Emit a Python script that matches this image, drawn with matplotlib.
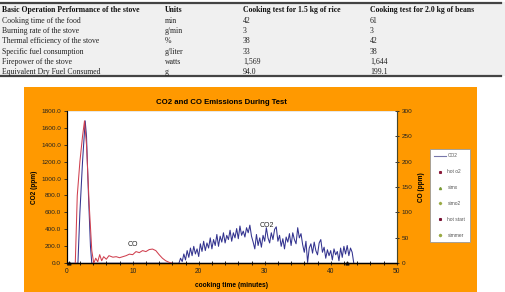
import numpy as np
import matplotlib
matplotlib.use("Agg")
import matplotlib.pyplot as plt
from matplotlib.patches import Rectangle
from matplotlib.lines import Line2D

# table values
table_header = ['Basic Operation Performance of the stove', 'Units',
                'Cooking test for 1.5 kg of rice', 'Cooking test for 2.0 kg of beans']
table_params = ['Cooking time of the food', 'Burning rate of the stove',
                'Thermal efficiency of the stove', 'Specific fuel consumption',
                'Firepower of the stove', 'Equivalent Dry Fuel Consumed']
table_units = ['min', 'g/min', '%', 'g/liter', 'watts', 'g']
rice_vals = ['42', '3', '38', '33', '1,569', '94.0']
beans_vals = ['61', '3', '42', '38', '1,644', '199.1']

# CO2 (ppm) - first burst and the later noisy part
co2_time_a = [0.0, 1.7, 2.0, 2.4, 2.8, 3.0, 3.3, 3.6, 3.8, 17.0]
co2_vals_a = [0, 0, 600, 1200, 1680, 1500, 800, 200, 0, 0]
co2_time_b = list(np.arange(17.25, 43.75, 0.25))
co2_vals_b = [60, 20, 110, 40, 150, 70, 180, 90, 200, 110, 170, 80, 230, 140, 260, 150,
              240, 180, 300, 170, 280, 210, 340, 200, 320, 250, 360, 240, 330, 280, 390,
              260, 360, 300, 410, 290, 440, 330, 380, 310, 420, 360, 450, 320, 250, 170,
              340, 210, 300, 190, 330, 260, 420, 300, 240, 360, 280, 400, 430, 260, 330,
              200, 290, 170, 310, 250, 350, 210, 360, 280, 230, 420, 300, 350, 220, 130,
              260, 10, 180, 230, 120, 250, 150, 100, 240, 280, 130, 190, 60, 160, 90, 150,
              40, 170, 100, 140, 30, 180, 70, 200, 110, 210, 90, 180, 130, 0]

# CO (ppm, right axis)
co_time = [1.3, 1.6, 2.0, 2.4, 2.7, 3.0, 3.4, 3.8, 4.1, 4.4, 4.7, 5.0, 5.3, 5.6, 6.0,
           6.4, 7.0, 7.5, 8.0, 8.5, 9.0, 9.5, 10.0, 10.5, 11.0, 11.5, 12.0, 12.5, 13.0,
           13.5, 14.0, 14.5, 15.0, 15.5, 16.0]
co_vals = [0, 133, 200, 250, 280, 233, 117, 25, 0, 10, 3, 17, 5, 13, 8, 15, 12, 13, 11,
           13, 15, 18, 17, 23, 21, 25, 23, 27, 28, 25, 17, 10, 5, 2, 0]

hot_start_t = [0.3, 42.4]
hot_start_v = [0, 0]

W, H = 506, 292
fig = plt.figure(figsize=(W / 100, H / 100), dpi=100)
fig.patch.set_facecolor('white')

def fy(px):
    return 1 - px / H

# ---- table ----
fig.patches.append(Rectangle((0, fy(76)), 1, fy(2) - fy(76), transform=fig.transFigure,
                             facecolor='#f0f0f0', edgecolor='none', zorder=-5))
for ypx in (2.5, 75.5):
    fig.add_artist(Line2D([0, 0.99], [fy(ypx), fy(ypx)], color='#444444', lw=1.6))
col_x = [2, 165, 243, 370]
serif = ['Liberation Serif', 'DejaVu Serif']
for x, txt in zip(col_x, table_header):
    fig.text(x / W, fy(10.5), txt, fontsize=5.6, fontweight='bold', family=serif,
             va='center', color='#111111')
rows = list(zip(table_params, table_units, rice_vals, beans_vals))
for i, row in enumerate(rows):
    ypx = 21 + i * 10.2
    for x, txt in zip(col_x, row):
        fig.text(x / W, fy(ypx), txt, fontsize=5.6, family=serif, va='center',
                 color='#222222')

# ---- chart panel ----
fig.patches.append(Rectangle((24 / W, 0), (477 - 24) / W, fy(87), transform=fig.transFigure,
                             facecolor='#ff9900', edgecolor='none', zorder=-5))

sans = ['Liberation Sans', 'DejaVu Sans']
ax = fig.add_axes([66.7 / W, fy(263.3), 330 / W, (263.3 - 110.7) / H])
ax.set_facecolor('white')
ax.plot(co2_time_a + co2_time_b, co2_vals_a + co2_vals_b, color='#33338f', lw=0.75)
ax.scatter(hot_start_t, hot_start_v, s=4, marker='^', color='#111111', zorder=5, clip_on=False)
ax.set_xlim(0, 50)
ax.set_ylim(0, 1800)
ax.set_xticks(range(0, 51, 10))
ax.set_xticks(range(0, 51, 2), minor=True)
ax.set_yticks(range(0, 1801, 200))
ax.set_yticklabels([f'{v:.1f}' for v in range(0, 1801, 200)])
ax.tick_params(axis='y', labelsize=4.6, length=2.5, width=0.6, pad=1.5, colors='#222222')
ax.tick_params(axis='x', which='major', labelsize=4.8, length=3, width=0.6, direction='inout',
               pad=2, colors='#222222')
ax.tick_params(axis='x', which='minor', length=2.5, width=0.6, direction='inout')
for lab in ax.get_xticklabels() + ax.get_yticklabels():
    lab.set_family(sans)
ax.spines['bottom'].set_linewidth(1.0)
ax.spines['left'].set_linewidth(0.8)
ax.spines['top'].set_color('#dddddd')
ax.spines['top'].set_linewidth(0.5)
ax.set_ylabel('CO2 (ppm)', fontsize=4.7, fontweight='bold', family=sans, labelpad=2)
ax.set_xlabel('cooking time (minutes)', fontsize=4.8, fontweight='bold', family=sans, labelpad=5)
ax.text(10, 175, 'CO', fontsize=5, family=sans, color='#222222', ha='center', va='bottom')
ax.text(30.3, 410, 'CO2', fontsize=5, family=sans, color='#222222', ha='center', va='bottom')
ax.set_title('CO2 and CO Emissions During Test', fontsize=5.6, fontweight='bold',
             family=sans, pad=5, x=0.47)

ax2 = ax.twinx()
ax2.plot(co_time, co_vals, color='#d0404f', lw=0.75)
ax2.set_ylim(0, 300)
ax2.set_yticks(range(0, 301, 50))
ax2.tick_params(axis='y', labelsize=4.6, length=3, width=0.6, direction='inout', pad=2,
                colors='#222222')
for lab in ax2.get_yticklabels():
    lab.set_family(sans)
ax2.spines['right'].set_color('#555533')
ax2.spines['right'].set_linewidth(0.6)
ax2.spines['top'].set_visible(False)
ax2.set_ylabel('CO (ppm)', fontsize=4.7, fontweight='bold', family=sans, labelpad=4)

# legend
handles = [
    Line2D([], [], color='#7777aa', lw=0.8),
    Line2D([], [], ls='none', marker='s', ms=1.2, color='#8b1a3a'),
    Line2D([], [], ls='none', marker='^', ms=1.5, color='#779933'),
    Line2D([], [], ls='none', marker='D', ms=1.2, color='#99aa44'),
    Line2D([], [], ls='none', marker='s', ms=1.2, color='#771133'),
    Line2D([], [], ls='none', marker='P', ms=1.5, color='#99aa44'),
]
labels = ['CO2', 'hot o2', 'simx', 'simo2', 'hot start', 'simmer']
leg = fig.legend(handles, labels, loc='upper left', bbox_to_anchor=(430 / W, fy(149)),
                 fontsize=3.5, labelspacing=2.25, handlelength=2.4, handletextpad=0.3,
                 borderpad=0.9, frameon=True, fancybox=False, borderaxespad=0,
                 framealpha=1)
leg.get_frame().set_edgecolor('#999999')
leg.get_frame().set_linewidth(0.6)
for t in leg.get_texts():
    t.set_color('#555555')
    t.set_family(sans)

fig.savefig('out.png', dpi=100)
